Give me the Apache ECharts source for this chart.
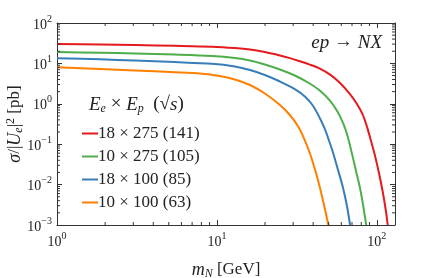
<!DOCTYPE html>
<html><head><meta charset="utf-8">
<script src="https://cdn.jsdelivr.net/npm/echarts@6/dist/echarts.min.js"></script>
<style>html,body{margin:0;padding:0;background:#fff}#c{width:424px;height:278px}</style>
</head><body><div id="c"></div>
<script>
// ---- data ----
var seriesNames = ['18 × 275 (141)', '10 × 275 (105)', '18 × 100 (85)', '10 × 100 (63)'];
var colors = ['#e41a1c', '#4daf4a', '#377eb8', '#ff7f00'];

var mRed = [1, 1.86, 3.07, 5.47, 9.31, 12.96, 16.1, 19.95, 24.8, 28.6, 33.0, 38.1, 44.0, 50.8, 58.7, 67.8, 75.0, 81.7, 86.6, 91.7, 97.2, 102.9, 109.0, 113.8, 117.1];
var sRed = [30.2, 29.4, 28.5, 27.3, 25.9, 24.0, 22.1, 19.1, 15.7, 13.5, 11.35, 9.35, 7.45, 5.36, 3.32, 1.77, 1.0, 0.54, 0.28, 0.127, 0.054, 0.0205, 0.00656, 0.00235, 0.001];

var mGreen = [1, 1.86, 3.07, 5.47, 9.31, 12.96, 16.1, 19.95, 24.8, 30.7, 38.1, 44.0, 50.8, 57.0, 62.2, 65.9, 69.8, 73.9, 78.3, 81.7, 85.9];
var sGreen = [19.1, 18.4, 17.6, 16.5, 15.2, 13.6, 11.8, 9.40, 7.06, 5.02, 3.18, 2.13, 1.21, 0.627, 0.299, 0.151, 0.0605, 0.0230, 0.00873, 0.00351, 0.001];

var mBlue = [1, 1.86, 3.07, 5.47, 9.31, 12.96, 16.1, 19.95, 24.8, 30.7, 35.5, 39.8, 44.0, 47.3, 50.1, 53.1, 57.0, 61.3, 64.9, 68.1];
var sBlue = [13.4, 12.6, 11.8, 10.8, 9.77, 8.38, 6.87, 5.17, 3.56, 2.32, 1.52, 0.908, 0.446, 0.238, 0.127, 0.0641, 0.0243, 0.00873, 0.00313, 0.001];

var mOrange = [1, 1.86, 3.07, 5.47, 7.83, 10.4, 12.96, 16.1, 19.95, 24.8, 28.6, 32.1, 35.0, 38.1, 41.0, 44.0, 46.6, 49.8];
var sOrange = [8.0, 7.26, 6.67, 6.05, 5.62, 4.88, 3.99, 2.92, 1.80, 0.933, 0.528, 0.282, 0.142, 0.0605, 0.0243, 0.00873, 0.00331, 0.001];

var xMin = 1, xMax = 130, yMin = 0.001, yMax = 100;
var xMinorTicks = [2,3,4,5,6,7,8,9,20,30,40,50,60,70,80,90];
var yMinorTicks = [0.002,0.003,0.004,0.005,0.006,0.007,0.008,0.009,
                   0.02,0.03,0.04,0.05,0.06,0.07,0.08,0.09,
                   0.2,0.3,0.4,0.5,0.6,0.7,0.8,0.9,
                   2,3,4,5,6,7,8,9,
                   20,30,40,50,60,70,80,90];

// ---- chart ----
var FONT = 'Liberation Serif';
function zip(a, b) { return a.map(function (v, i) { return [v, b[i]]; }); }
var allM = [mRed, mGreen, mBlue, mOrange];
var allS = [sRed, sGreen, sBlue, sOrange];

function powLabel(v) {
  var e = Math.round(Math.log(v) / Math.LN10);
  return '{b|10}{s|' + (e < 0 ? '\u2212' + (-e) : e) + '}';
}
var labelRich = {
  b: { fontFamily: FONT, fontSize: 14, color: '#222', verticalAlign: 'bottom', lineHeight: 18 },
  s: { fontFamily: FONT, fontSize: 10, color: '#222', verticalAlign: 'top', lineHeight: 18, padding: [0, 0, 6, 0] }
};
var axisLineStyle = { color: '#333', width: 1 };

var series = seriesNames.map(function (n, i) {
  return {
    name: n, type: 'line', data: zip(allM[i], allS[i]),
    showSymbol: false, symbol: 'none', smooth: 0.3,
    lineStyle: { color: colors[i], width: 2 }, itemStyle: { color: colors[i] },
    z: 3
  };
});

var tickData = xMinorTicks.map(function (v) { return [v, 'x']; })
  .concat(yMinorTicks.map(function (v) { return [v, 'y']; }));
series.push({
  type: 'custom', silent: true, clip: false, z: 5,
  data: tickData.map(function (d, i) { return [i]; }),
  renderItem: function (params, api) {
    var d = tickData[params.dataIndex];
    var L = 3;
    if (d[1] === 'x') {
      var b = api.coord([d[0], yMin]), t = api.coord([d[0], yMax]);
      return { type: 'group', children: [
        { type: 'line', shape: { x1: b[0], y1: b[1], x2: b[0], y2: b[1] - L }, style: { stroke: '#333', lineWidth: 1 } },
        { type: 'line', shape: { x1: t[0], y1: t[1], x2: t[0], y2: t[1] + L }, style: { stroke: '#333', lineWidth: 1 } }
      ]};
    } else {
      var l = api.coord([xMin, d[0]]), r = api.coord([xMax, d[0]]);
      return { type: 'group', children: [
        { type: 'line', shape: { x1: l[0], y1: l[1], x2: l[0] + L, y2: l[1] }, style: { stroke: '#333', lineWidth: 1 } },
        { type: 'line', shape: { x1: r[0], y1: r[1], x2: r[0] - L, y2: r[1] }, style: { stroke: '#333', lineWidth: 1 } }
      ]};
    }
  }
});

var chart = echarts.init(document.getElementById('c'), null, { renderer: 'canvas' });
chart.setOption({
  animation: false,
  backgroundColor: '#fff',
  grid: { left: 57, right: 29, top: 23, bottom: 53, containLabel: false, outerBoundsMode: 'none' },
  xAxis: [{
    type: 'log', logBase: 10, min: xMin, max: xMax,
    name: '{i|m}{sub|N} [GeV]', nameLocation: 'middle', nameGap: 35,
    nameTextStyle: { fontFamily: FONT, fontSize: 17, color: '#222',
      rich: { i: { fontFamily: FONT, fontStyle: 'italic', fontSize: 18, color: '#222' },
              sub: { fontFamily: FONT, fontStyle: 'italic', fontSize: 12, color: '#222', verticalAlign: 'bottom', padding: [8, 0, 0, 0] } } },
    axisLine: { show: true, lineStyle: axisLineStyle },
    axisTick: { show: true, inside: true, length: 5, lineStyle: axisLineStyle },
    axisLabel: { formatter: powLabel, rich: labelRich, margin: 6 },
    splitLine: { show: false }, minorTick: { show: false }
  }, {
    type: 'log', logBase: 10, min: xMin, max: xMax, position: 'top',
    axisLine: { show: true, lineStyle: axisLineStyle },
    axisTick: { show: true, inside: true, length: 5, lineStyle: axisLineStyle },
    axisLabel: { show: false }, splitLine: { show: false }
  }],
  yAxis: [{
    type: 'log', logBase: 10, min: yMin, max: yMax,
    name: '{i|\u03c3}/|{i|U}{sub|e}|{sup|2} [pb]', nameLocation: 'middle', nameGap: 32, nameRotate: 90,
    nameMoveOverlap: false,
    nameTextStyle: { fontFamily: FONT, fontSize: 17, color: '#222',
      rich: { i: { fontFamily: FONT, fontStyle: 'italic', fontSize: 18, color: '#222' },
              sub: { fontFamily: FONT, fontStyle: 'italic', fontSize: 12, color: '#222', padding: [8, 0, 0, 0] },
              sup: { fontFamily: FONT, fontSize: 12, color: '#222', padding: [0, 0, 8, 0] } } },
    axisLine: { show: true, lineStyle: axisLineStyle },
    axisTick: { show: true, inside: true, length: 5, lineStyle: axisLineStyle },
    axisLabel: { formatter: powLabel, rich: labelRich, margin: 5 },
    splitLine: { show: false }
  }, {
    type: 'log', logBase: 10, min: yMin, max: yMax, position: 'right',
    axisLine: { show: true, lineStyle: axisLineStyle },
    axisTick: { show: true, inside: true, length: 5, lineStyle: axisLineStyle },
    axisLabel: { show: false }, splitLine: { show: false }
  }],
  legend: {
    orient: 'vertical', left: 77, top: 120,
    data: seriesNames.map(function (n, i) { return { name: n, icon: 'rect', itemStyle: { color: colors[i] } }; }),
    itemWidth: 16, itemHeight: 2, itemGap: 6,
    textStyle: { fontFamily: FONT, fontSize: 17, color: '#222', padding: [0, 0, 0, -5] },
    selectedMode: false
  },
  graphic: [{
    type: 'text', left: 89, top: 95,
    style: { text: '{i|E}{sub|e} \u00d7 {i|E}{sub|p}  ({r|\u221a}{i|s})',
      fontFamily: FONT, fontSize: 19, fill: '#222',
      rich: { i: { fontFamily: FONT, fontStyle: 'italic', fontSize: 19, fill: '#222' },
              r: { fontFamily: FONT, fontSize: 19, fill: '#222' },
              sub: { fontFamily: FONT, fontStyle: 'italic', fontSize: 12, fill: '#222', padding: [8, 0, 0, 0] } } }
  }, {
    type: 'text', right: 42, top: 33,
    style: { text: '{i|ep} \u2192 {i|NX}', fontFamily: FONT, fontSize: 19, fill: '#222',
      rich: { i: { fontFamily: FONT, fontStyle: 'italic', fontSize: 19, fill: '#222' } } }
  }],
  series: series
});
</script></body></html>
